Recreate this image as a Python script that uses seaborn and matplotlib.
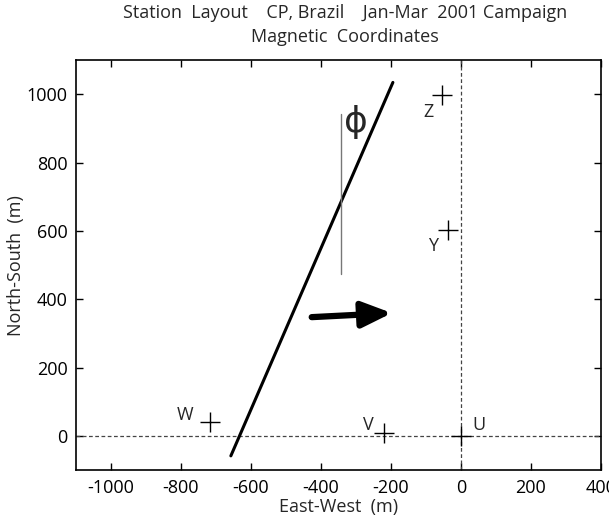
import matplotlib
matplotlib.use("Agg")
import matplotlib.pyplot as plt
import seaborn as sns
import pandas as pd

# Station positions (magnetic coordinates, metres)
stations = ["U", "V", "W", "Y", "Z"]
east_west = [0, -220, -717, -37, -54]
north_south = [0, 8, 40, 604, 997]
label_offsets = [(13, 8), (-11, 6), (-18, 5), (-11, -12), (-10, -12)]

# Line of the structure and its reference vertical
line_x = [-657, -194]
line_y = [-58, 1035]
vert_x = [-343, -343]
vert_y = [474, 942]

# Drift arrow (tail, head)
arrow_x = [-426, -197]
arrow_y = [348, 360]

x_ticks = [-1000, -800, -600, -400, -200, 0, 200, 400]
y_ticks = [0, 200, 400, 600, 800, 1000]

sns.set_theme(style="white")
plt.rcParams["font.family"] = ["Open Sans", "DejaVu Sans"]
plt.rcParams["axes.unicode_minus"] = False

fig = plt.figure(figsize=(6.09, 5.19), dpi=100)
ax = fig.add_axes([0.1245, 0.094, 0.862, 0.79])

df = pd.DataFrame({"ew": east_west, "ns": north_south, "name": stations})

ax.axhline(0, color="#444444", lw=0.9, ls=(0, (3, 2)), zorder=1)
ax.axvline(0, color="#444444", lw=0.9, ls=(0, (3, 2)), zorder=1)

sns.scatterplot(data=df, x="ew", y="ns", marker="+", s=210, color="black",
                linewidth=1.0, ax=ax, zorder=3, legend=False)
for name, x, y, off in zip(stations, east_west, north_south, label_offsets):
    ax.annotate(name, (x, y), xytext=off, textcoords="offset points",
                ha="center", va="center", fontsize=13)

sns.lineplot(x=line_x, y=line_y, color="black", lw=2.2, ax=ax,
             estimator=None, sort=False)
sns.lineplot(x=vert_x, y=vert_y, color="#777777", lw=1.0, ax=ax,
             estimator=None, sort=False)

ax.text(-300, 918, "ϕ", fontsize=26, ha="center", va="center",
        family=["DejaVu Sans"])

ax.annotate("", xy=(arrow_x[1], arrow_y[1]), xytext=(arrow_x[0], arrow_y[0]),
            arrowprops=dict(arrowstyle="-|>,head_length=1.5,head_width=0.65",
                            color="black", lw=4.5, shrinkA=0, shrinkB=0))

ax.set_xlim(-1100, 400)
ax.set_ylim(-100, 1100)
ax.set_xticks(x_ticks)
ax.set_yticks(y_ticks)
ax.tick_params(direction="in", length=5, width=1, labelsize=13, pad=6,
               top=True, right=True, bottom=True, left=True, colors="black")
for s in ax.spines.values():
    s.set_visible(True)
    s.set_color("black")
    s.set_linewidth(1.2)

ax.set_xlabel("East-West  (m)", fontsize=13, labelpad=1)
ax.set_ylabel("North-South  (m)", fontsize=13, labelpad=1)
fig.text(0.567, 0.975, "Station  Layout    CP, Brazil    Jan-Mar  2001 Campaign",
         ha="center", va="center", fontsize=13)
fig.text(0.567, 0.929, "Magnetic  Coordinates", ha="center", va="center",
         fontsize=13)

fig.savefig("out.png", dpi=100)
